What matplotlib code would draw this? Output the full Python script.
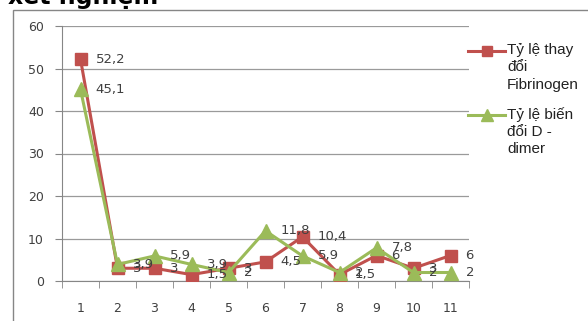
import matplotlib
matplotlib.use("Agg")
import matplotlib.pyplot as plt
from matplotlib.lines import Line2D
from matplotlib.patches import Rectangle

# data
categories = [1, 2, 3, 4, 5, 6, 7, 8, 9, 10, 11]
fibrinogen = [52.2, 3, 3, 1.5, 3, 4.5, 10.4, 1.5, 6, 3, 6]
d_dimer = [45.1, 3.9, 5.9, 3.9, 2, 11.8, 5.9, 2, 7.8, 2, 2]
fib_label = "Tỷ lệ thay\nđổi\nFibrinogen"
dd_label = "Tỷ lệ biến\nđổi D -\ndimer"
yticks = [0, 10, 20, 30, 40, 50, 60]

red = "#C0504D"
green = "#9BBB59"
txt = "#404040"
W, H = 588, 321

fig = plt.figure(figsize=(W / 100, H / 100), dpi=100)
ax = fig.add_axes([62 / W, (H - 281) / H, (469 - 62) / W, (281 - 26) / H])

x = list(range(len(categories)))
ax.plot(x, fibrinogen, color=red, lw=2.2, marker="s", ms=8, mec=red, mfc=red, zorder=3)
ax.plot(x, d_dimer, color=green, lw=2.2, marker="^", ms=9.5, mec=green, mfc=green, zorder=4)

def fmt(v):
    return f"{v:g}".replace(".", ",")

for xi, v in zip(x, fibrinogen):
    ax.annotate(fmt(v), (xi, v), xytext=(15, 0), textcoords="offset pixels",
                va="center", ha="left", fontsize=9.5, color=txt, zorder=5)
for xi, v in zip(x, d_dimer):
    ax.annotate(fmt(v), (xi, v), xytext=(15, 0), textcoords="offset pixels",
                va="center", ha="left", fontsize=9.5, color=txt, zorder=5)

ax.set_xlim(-0.5, len(categories) - 0.5)
ax.set_ylim(0, 60)
ax.set_yticks(yticks)
ax.set_yticklabels([str(t) for t in yticks])
ax.set_xticks(x)
ax.set_xticklabels([str(c) for c in categories])
ax.set_xticks([i - 0.5 for i in range(len(categories) + 1)], minor=True)
ax.tick_params(axis="x", which="major", length=0, pad=15, labelsize=9, labelcolor=txt)
ax.tick_params(axis="x", which="minor", length=5, color="#868686", direction="out")
ax.tick_params(axis="y", length=5, color="#868686", labelsize=9, labelcolor=txt, pad=8)
ax.yaxis.grid(True, color="#9a9a9a", lw=0.9)
ax.set_axisbelow(True)
for s in ["top", "right"]:
    ax.spines[s].set_visible(False)
for s in ["left", "bottom"]:
    ax.spines[s].set_color("#868686")

# outer chart border
fig.add_artist(Rectangle((13 / W, -0.1), 1.0, 1 - 10 / H + 0.1, transform=fig.transFigure,
                         fill=False, ec="#868686", lw=1))

# cut-off title
fig.text(8 / W, 1 - 4 / H, "xét nghiệm", fontsize=17, weight="bold", va="baseline", ha="left")

# legend
for (yl, col, mk, ms, lab) in [(51, red, "s", 7.5, fib_label), (115, green, "^", 9, dd_label)]:
    fig.add_artist(Line2D([468 / W, 505 / W], [1 - yl / H] * 2, transform=fig.transFigure,
                          color=col, lw=2.2))
    fig.add_artist(Line2D([487 / W], [1 - yl / H], transform=fig.transFigure,
                          color=col, marker=mk, ms=ms, lw=0))
    fig.text(507 / W, 1 - (yl - 8) / H, lab, fontsize=11, family="Liberation Sans",
             color="#222222", va="top", ha="left", linespacing=1.3)

fig.savefig("out.png", dpi=100)
